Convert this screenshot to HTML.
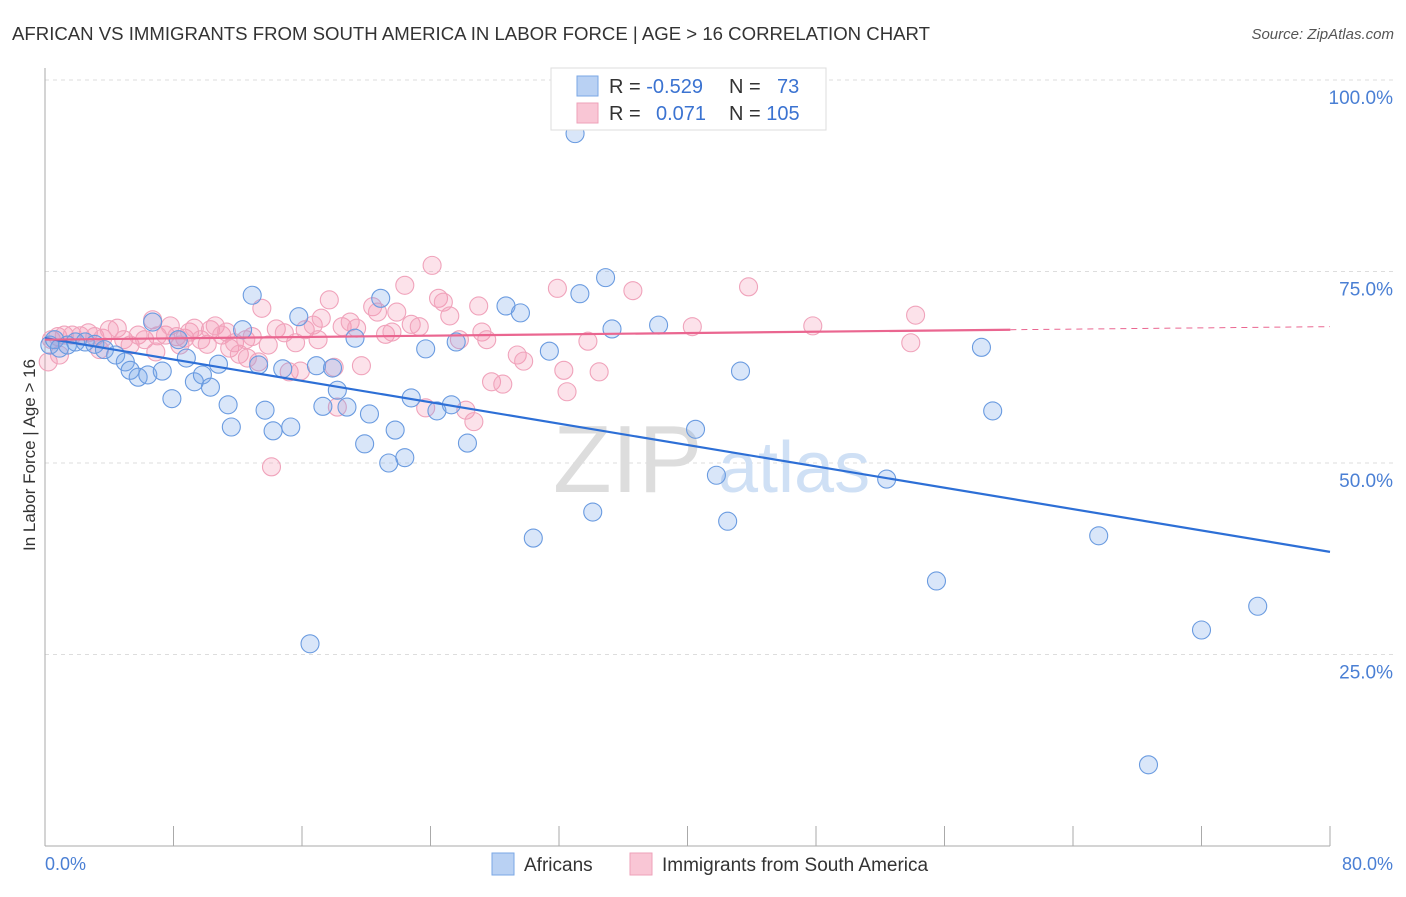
<!DOCTYPE html>
<html><head><meta charset="utf-8"><style>
body{margin:0;background:#fff;font-family:"Liberation Sans",sans-serif;}
svg text{font-family:"Liberation Sans",sans-serif;}
</style></head><body>
<svg id="chart" width="1406" height="892" viewBox="0 0 1406 892">
<text x="12" y="40" font-size="18" fill="#333" textLength="918" lengthAdjust="spacingAndGlyphs">AFRICAN VS IMMIGRANTS FROM SOUTH AMERICA IN LABOR FORCE | AGE &gt; 16 CORRELATION CHART</text>
<text x="1394" y="39" font-size="15" fill="#555" font-style="italic" text-anchor="end">Source: ZipAtlas.com</text>
<g id="grid"></g>
<g>
<text x="553" y="492" font-size="96" font-family="Liberation Serif" fill="#ddd">ZIP</text>
<text x="718" y="492" font-size="72" fill="#cfe0f5">atlas</text>
</g>
<g id="axes"></g>
<g id="pts"></g>
<g id="trend"></g>
<text x="35" y="455" font-size="17" fill="#333" text-anchor="middle" transform="rotate(-90 35 455)">In Labor Force | Age &gt; 16</text>
<text x="45" y="870" font-size="18" fill="#4a7fd4">0.0%</text>
<text x="1393" y="870" font-size="18" fill="#4a7fd4" text-anchor="end">80.0%</text>
<g>
<rect x="551" y="68" width="275" height="62" fill="#fff" stroke="#ddd"/>
<rect x="577" y="76" width="21" height="20" fill="#b9d1f3" stroke="#7aa7e6"/>
<rect x="577" y="103" width="21" height="20" fill="#f9c6d5" stroke="#eea1b9"/>
<text x="609" y="93" font-size="20" fill="#333">R = <tspan fill="#3b73d1">-0.529</tspan></text>
<text x="729" y="93" font-size="20" fill="#333">N = <tspan fill="#3b73d1" x="777">73</tspan></text>
<text x="609" y="120" font-size="20" fill="#333">R = <tspan fill="#3b73d1" x="656">0.071</tspan></text>
<text x="729" y="120" font-size="20" fill="#333">N = <tspan fill="#3b73d1">105</tspan></text>
</g>
<g>
<rect x="492" y="853" width="22" height="22" fill="#b9d1f3" stroke="#7aa7e6"/>
<text x="524" y="871" font-size="19" fill="#333">Africans</text>
<rect x="630" y="853" width="22" height="22" fill="#f9c6d5" stroke="#eea1b9"/>
<text x="662" y="871" font-size="19" fill="#333">Immigrants from South America</text>
</g>
</svg>
<script>
const yTicks=[25,50,75,100];
const yTickLabels=["25.0%","50.0%","75.0%","100.0%"];
const xTicks=[0,8,16,24,32,40,48,56,64,72,80];
const africansX=[0.3,0.6,0.9,1.4,1.9,2.5,3.1,3.7,4.4,5.0,5.3,5.8,6.4,6.7,7.3,7.9,8.3,8.8,9.3,9.8,10.3,10.8,11.4,11.6,12.3,12.9,13.3,13.7,14.2,15.3,14.8,15.8,16.5,16.9,17.3,17.9,18.2,18.8,19.3,19.9,20.2,20.9,21.4,21.8,22.4,22.8,23.7,24.4,25.3,25.6,26.3,28.7,29.6,30.4,31.4,33.0,33.3,34.1,34.9,35.3,38.2,40.5,41.8,42.5,43.3,52.4,55.5,58.3,59.0,65.6,68.7,72.0,75.5];
const africansY=[65.4,66.1,65.0,65.4,65.8,65.8,65.5,64.8,64.1,63.2,62.1,61.2,61.5,68.4,62.0,58.4,66.1,63.7,60.6,61.5,59.9,62.9,57.6,54.7,67.4,71.9,62.8,56.9,54.2,54.7,62.3,69.1,26.4,62.7,57.4,62.4,59.5,57.3,66.3,52.5,56.4,71.5,50.0,54.3,50.7,58.5,64.9,56.8,57.6,65.8,52.6,70.5,69.6,40.2,64.6,93.0,72.1,43.6,74.2,67.5,68.0,54.4,48.4,42.4,62.0,47.9,34.6,65.1,56.8,40.5,10.6,28.2,31.3];
const immX=[0.2,0.4,0.8,1.2,1.7,2.2,2.7,3.1,3.6,4.0,4.5,4.9,5.3,5.8,6.2,6.7,7.0,7.5,7.8,8.2,8.7,9.0,9.3,9.7,10.1,10.3,10.6,11.0,11.5,11.8,12.1,12.5,12.9,13.3,13.5,13.9,14.4,14.9,15.2,15.6,15.9,16.2,16.7,17.0,17.2,17.7,18.0,18.2,18.5,19.0,19.4,19.7,20.4,20.7,21.2,21.6,21.9,22.4,22.8,23.3,23.7,24.1,24.5,24.8,25.2,25.8,26.2,26.7,27.0,27.2,27.5,27.8,28.5,29.4,29.8,31.9,32.3,32.5,33.8,34.5,36.6,40.3,43.8,47.8,53.9,54.2,14.1,3.4,8.4,12.6,11.3,6.9,0.9];
const immY=[63.2,66.1,66.5,66.7,66.7,66.6,67.0,66.5,66.3,67.4,67.6,66.1,65.4,66.7,66.1,68.7,66.6,66.7,67.9,66.5,66.3,67.1,67.6,66.1,65.5,67.4,67.9,66.7,65.0,65.7,64.2,66.1,66.5,63.2,70.2,65.4,67.5,67.0,61.9,65.7,62.0,67.4,68.0,66.1,68.9,71.3,62.5,57.3,67.8,68.4,67.6,62.7,70.4,69.7,66.8,67.1,69.7,73.2,68.1,67.8,57.2,75.8,71.5,71.0,69.2,66.1,56.9,55.4,70.5,67.1,66.1,60.6,60.3,64.1,63.3,72.8,62.1,59.3,65.9,61.9,72.5,67.8,73.0,67.9,65.7,69.3,49.5,64.8,65.4,63.7,67.1,64.5,64.1];
const africanTrendX=[0,80];
const africanTrendY=[66.3,38.4];
const immTrendX=[0,60.1,80];
const immTrendY=[66.1,67.4,67.8];

const NS="http://www.w3.org/2000/svg";
const sx=v=>45+v/80*1285;
const sy=v=>846-v/100*766;
function mk(tag,attrs,parent){const e=document.createElementNS(NS,tag);for(const k in attrs)e.setAttribute(k,attrs[k]);document.getElementById(parent).appendChild(e);return e;}

yTicks.forEach((t,i)=>{
  const l=mk('line',{x1:45,x2:1393,y1:sy(t),y2:sy(t),stroke:'#ddd','stroke-dasharray':'4 4'},'grid');
  
  
  const tx=mk('text',{x:1393,y:sy(t)+24,'font-size':19,fill:'#4a7fd4','text-anchor':'end'},'grid');
  tx.textContent=yTickLabels[i];
  
  
});
const ya=mk('line',{x1:45,x2:45,y1:68,y2:846,stroke:'#aaa'},'axes');


const xa=mk('line',{x1:45,x2:1330,y1:846,y2:846,stroke:'#aaa'},'axes');


xTicks.forEach(t=>{
  const l=mk('line',{x1:sx(t),x2:sx(t),y1:826,y2:846,stroke:'#aaa'},'axes');
  
  
});
immX.forEach((x,i)=>{
  const c=mk('circle',{cx:sx(x),cy:sy(immY[i]),r:9,fill:'rgba(244,150,178,0.28)',stroke:'#f0a3bb','stroke-width':1.1},'pts');
  
  
});
africansX.forEach((x,i)=>{
  const c=mk('circle',{cx:sx(x),cy:sy(africansY[i]),r:9,fill:'rgba(120,165,235,0.28)',stroke:'#6a9be0','stroke-width':1.1},'pts');
  
  
});
const bt=mk('line',{x1:sx(africanTrendX[0]),y1:sy(africanTrendY[0]),x2:sx(africanTrendX[1]),y2:sy(africanTrendY[1]),stroke:'#2d6fd6','stroke-width':2.2},'trend');


const pt=mk('line',{x1:sx(immTrendX[0]),y1:sy(immTrendY[0]),x2:sx(immTrendX[1]),y2:sy(immTrendY[1]),stroke:'#ea6690','stroke-width':2.2},'trend');


const pd=mk('line',{x1:sx(immTrendX[1]),y1:sy(immTrendY[1]),x2:sx(immTrendX[2]),y2:sy(immTrendY[2]),stroke:'#ea6690','stroke-width':1,'stroke-dasharray':'6 5'},'trend');


</script>
</body></html>
